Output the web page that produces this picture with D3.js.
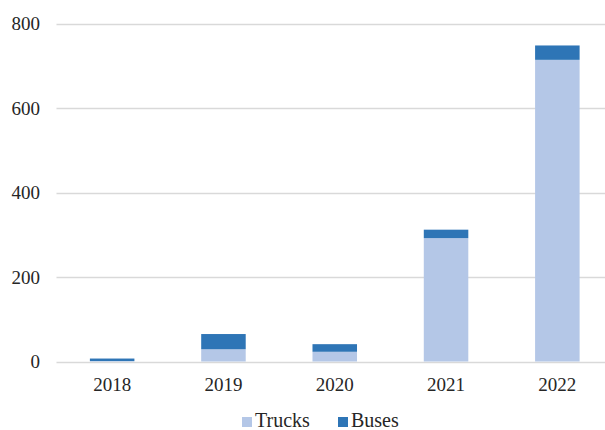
<!DOCTYPE html>
<html>
<head>
<meta charset="utf-8">
<script src="https://cdn.jsdelivr.net/npm/d3@7"></script>
<style>
  html, body { margin: 0; padding: 0; background: #fff; }
  svg { display: block; }
  svg text { font-family: "Liberation Serif", "Times New Roman", Times, serif; }
</style>
</head>
<body>
<svg id="chart" width="605" height="430"></svg>
<script>
// Vehicles per year, stacked: trucks below, buses on top
const years = ["2018", "2019", "2020", "2021", "2022"];
const trucks = [1, 29, 23, 292, 714];
const buses = [6, 36, 18, 20, 34];
const yTicks = [0, 200, 400, 600, 800];
const seriesNames = ["Trucks", "Buses"];
const seriesColors = ["#b4c7e7", "#2e75b6"];

const svg = d3.select("#chart");
const margin = { left: 56.5, right: -8, top: 23.5, bottom: 68.5 };
const W = 605, H = 430;

const x = d3.scaleBand()
  .domain(years)
  .range([margin.left, W - margin.right])
  .paddingInner(0.6)
  .paddingOuter(0.3);

const y = d3.scaleLinear()
  .domain([0, 800])
  .range([H - margin.bottom, margin.top]);

// Horizontal gridlines
svg.append("g")
  .selectAll("line")
  .data(yTicks)
  .join("line")
  .attr("x1", margin.left)
  .attr("x2", W)
  .attr("y1", d => Math.round(y(d)) + 0.5)
  .attr("y2", d => Math.round(y(d)) + 0.5)
  .attr("stroke", "#d9d9d9")
  .attr("stroke-width", 1.5);

// Stacked bars
const rows = years.map((yr, i) => ({ year: yr, Trucks: trucks[i], Buses: buses[i] }));
const stack = d3.stack().keys(seriesNames)(rows);

svg.append("g")
  .selectAll("g")
  .data(stack)
  .join("g")
  .attr("fill", (d, i) => seriesColors[i])
  .selectAll("rect")
  .data(d => d)
  .join("rect")
  .attr("x", d => x(d.data.year))
  .attr("width", x.bandwidth())
  .attr("y", d => y(d[1]))
  .attr("height", d => y(d[0]) - y(d[1]));

const serif = "Liberation Serif, Times New Roman, serif";

// Y axis labels
const yAxis = d3.axisLeft(y).tickValues(yTicks).tickSize(0).tickPadding(0);
svg.append("g")
  .attr("transform", "translate(40,0)")
  .call(yAxis)
  .attr("font-family", serif)
  .call(g => g.select(".domain").remove())
  .call(g => g.selectAll("text")
    .attr("font-size", 19)
    .attr("fill", "#262626"));

// X axis labels
const xAxis = d3.axisBottom(x).tickSize(0).tickPadding(0);
svg.append("g")
  .attr("transform", `translate(0,${y(0) + 16})`)
  .call(xAxis)
  .attr("font-family", serif)
  .call(g => g.select(".domain").remove())
  .call(g => g.selectAll("text")
    .attr("font-size", 19)
    .attr("fill", "#262626"));

// Legend
const legend = svg.append("g")
  .attr("transform", "translate(242,0)")
  .attr("font-family", serif);
const items = [
  { name: "Trucks", color: seriesColors[0], x: 0 },
  { name: "Buses", color: seriesColors[1], x: 96 }
];
const li = legend.selectAll("g").data(items).join("g")
  .attr("transform", d => `translate(${d.x},0)`);
li.append("rect")
  .attr("x", 0).attr("y", 417)
  .attr("width", 10).attr("height", 10)
  .attr("fill", d => d.color);
li.append("text")
  .attr("x", 13).attr("y", 427)
  .attr("font-size", 20)
  .attr("fill", "#262626")
  .text(d => d.name);
</script>
</body>
</html>
